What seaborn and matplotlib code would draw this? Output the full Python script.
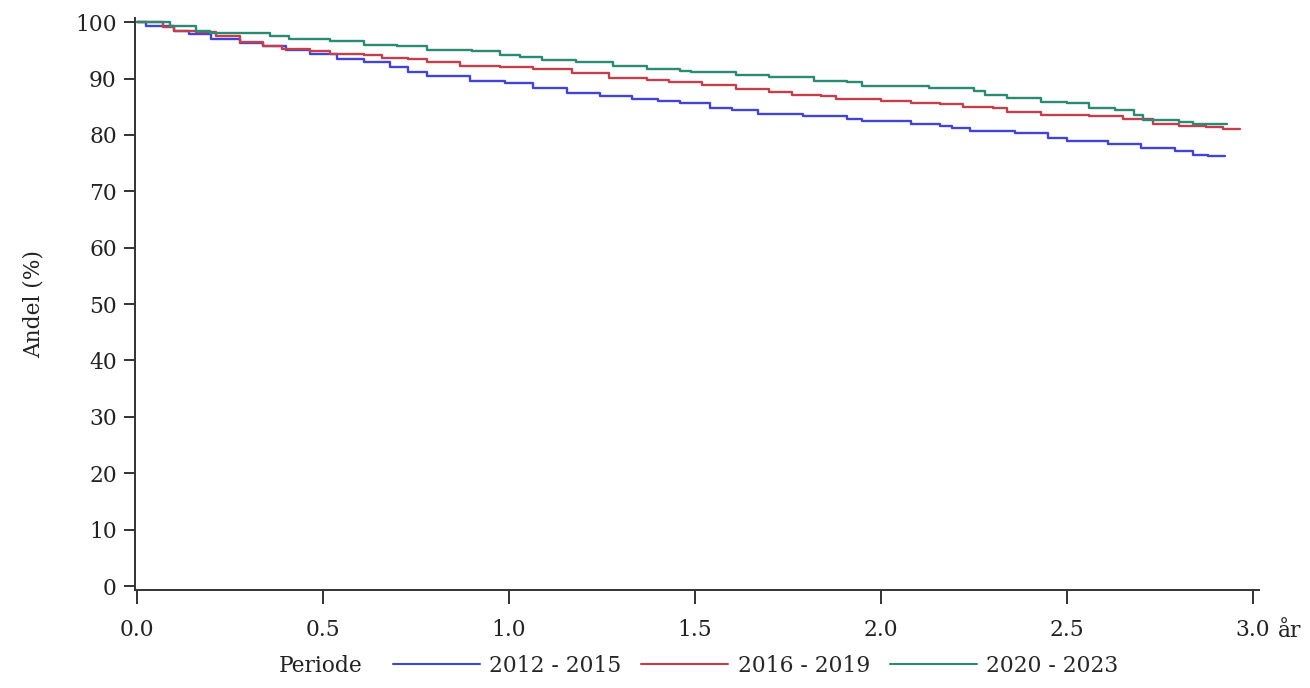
import numpy as np
import pandas as pd
import matplotlib
matplotlib.use("Agg")
import matplotlib.pyplot as plt
import seaborn as sns
from matplotlib.lines import Line2D

# ---- data ----
periods = ["2012 - 2015", "2016 - 2019", "2020 - 2023"]

t_2012 = [0, 0.026, 0.1, 0.14, 0.2, 0.277, 0.34, 0.40, 0.465, 0.537, 0.61, 0.68, 0.73, 0.78,
          0.895, 0.99, 1.065, 1.155, 1.245, 1.33, 1.40, 1.46, 1.54, 1.60, 1.67, 1.79, 1.91,
          1.95, 2.08, 2.16, 2.19, 2.24, 2.36, 2.45, 2.50, 2.61, 2.70, 2.79, 2.84, 2.88, 2.925]
v_2012 = [100, 99.4, 98.5, 97.9, 97.0, 96.3, 95.8, 95.1, 94.4, 93.5, 92.9, 92.0, 91.1, 90.4,
          89.6, 89.2, 88.4, 87.5, 86.9, 86.4, 86.0, 85.7, 84.8, 84.4, 83.7, 83.4, 82.8,
          82.4, 81.9, 81.5, 81.3, 80.7, 80.4, 79.5, 78.9, 78.4, 77.7, 77.1, 76.5, 76.2, 76.2]

t_2016 = [0, 0.07, 0.1, 0.16, 0.214, 0.277, 0.34, 0.39, 0.465, 0.52, 0.61, 0.66, 0.73, 0.78,
          0.87, 0.976, 1.065, 1.17, 1.27, 1.37, 1.43, 1.52, 1.61, 1.70, 1.76, 1.84, 1.88,
          2.0, 2.08, 2.16, 2.22, 2.30, 2.34, 2.43, 2.56, 2.65, 2.73, 2.80, 2.875, 2.92, 2.965]
v_2016 = [100, 99.1, 98.5, 98.2, 97.5, 96.4, 95.8, 95.2, 94.8, 94.4, 94.1, 93.6, 93.5, 92.9,
          92.3, 92.0, 91.6, 91.0, 90.1, 89.8, 89.4, 88.8, 88.1, 87.6, 87.0, 86.9, 86.4,
          86.0, 85.6, 85.4, 85.0, 84.7, 84.0, 83.5, 83.4, 82.9, 82.0, 81.6, 81.4, 81.1, 81.1]

t_2020 = [0, 0.089, 0.16, 0.196, 0.277, 0.357, 0.41, 0.52, 0.61, 0.70, 0.78, 0.90, 0.976,
          1.03, 1.09, 1.18, 1.28, 1.37, 1.46, 1.49, 1.61, 1.70, 1.79, 1.82, 1.91, 1.95, 2.13,
          2.25, 2.28, 2.34, 2.43, 2.50, 2.56, 2.63, 2.68, 2.705, 2.80, 2.84, 2.93]
v_2020 = [100, 99.4, 98.5, 98.1, 98.0, 97.6, 97.0, 96.7, 96.0, 95.7, 95.1, 94.8, 94.2,
          93.9, 93.3, 92.9, 92.3, 91.6, 91.4, 91.1, 90.6, 90.3, 90.2, 89.6, 89.4, 88.7, 88.3,
          87.8, 87.1, 86.6, 85.9, 85.6, 84.8, 84.4, 83.5, 82.7, 82.3, 81.9, 81.9]

x_ticks = [0.0, 0.5, 1.0, 1.5, 2.0, 2.5, 3.0]
y_ticks = [0, 10, 20, 30, 40, 50, 60, 70, 80, 90, 100]

colors = ["#4444d4", "#c2404e", "#2a8a72"]

df = pd.concat([
    pd.DataFrame({"t": t_2012, "v": v_2012, "Periode": periods[0]}),
    pd.DataFrame({"t": t_2016, "v": v_2016, "Periode": periods[1]}),
    pd.DataFrame({"t": t_2020, "v": v_2020, "Periode": periods[2]}),
], ignore_index=True)

sns.set_style("white")
plt.rcParams["font.family"] = ["DejaVu Serif"]
FS = 15.7
plt.rcParams["font.size"] = FS

fig = plt.figure(figsize=(13.1, 6.88), dpi=100)
ax = fig.add_axes([0.103, 0.1424, 0.858, 0.832])

sns.lineplot(data=df, x="t", y="v", hue="Periode", hue_order=periods,
             palette=colors, drawstyle="steps-post", estimator=None,
             linewidth=1.7, ax=ax, legend=False)

ax.set_xlim(-0.005, 3.016)
ax.set_ylim(-0.7, 100.8)
ax.set_xticks(x_ticks)
ax.set_xticklabels([f"{x:.1f}" for x in x_ticks])
ax.set_yticks(y_ticks)
ax.set_xlabel("")
ax.set_ylabel("Andel (%)", fontsize=FS, labelpad=22, color="#222222")

for s in ["top", "right"]:
    ax.spines[s].set_visible(False)
for s in ["left", "bottom"]:
    ax.spines[s].set_color("#333333")
    ax.spines[s].set_linewidth(1.4)

ax.tick_params(axis="y", left=True, direction="out", length=8, width=1.4, color="#333333",
               labelsize=FS, pad=5, labelcolor="#222222")
ax.tick_params(axis="x", bottom=True, direction="out", length=10, width=1.4, color="#333333",
               labelsize=FS, pad=11, labelcolor="#222222")
ax.grid(False)

fig.text(1290 / 1310, 1 - 637 / 688, "år", ha="center", va="baseline",
         fontsize=FS, color="#222222")

# legend
handles = [Line2D([0], [0], color=c, lw=1.5) for c in colors]
fig.text(362 / 1310, 1 - 666 / 688, "Periode", ha="right", va="center",
         fontsize=FS, color="#222222")
fig.legend(handles, periods, loc="center left", bbox_to_anchor=(393 / 1310, 1 - 666 / 688),
           ncol=3, frameon=False, fontsize=FS, handlelength=4.0, handletextpad=0.42,
           columnspacing=0.9, borderpad=0, borderaxespad=0)

fig.savefig("out.png", dpi=100)
